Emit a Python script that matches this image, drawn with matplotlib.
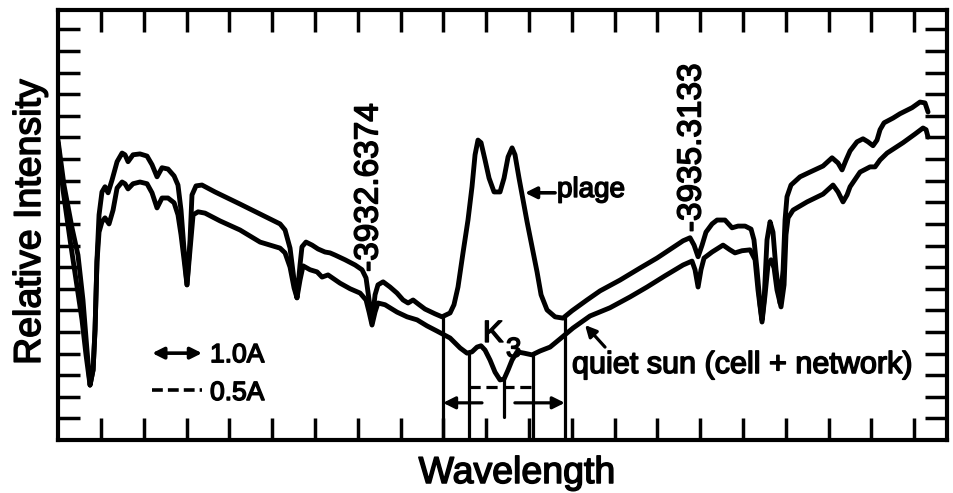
import numpy as np
import matplotlib.pyplot as plt
import matplotlib.patheffects as pe

plt.rcParams['font.family'] = ['Liberation Sans', 'DejaVu Sans']

# Ca II K line profiles, wavelength in Angstrom, intensity relative (0-1)
wl_plage = [3930.059, 3930.108, 3930.174, 3930.223, 3930.264, 3930.297, 3930.322,
            3930.347, 3930.363, 3930.379, 3930.396, 3930.420, 3930.445, 3930.470,
            3930.503, 3930.544, 3930.585, 3930.609, 3930.634, 3930.675, 3930.732,
            3930.790, 3930.831, 3930.872, 3930.913, 3930.962, 3931.012, 3931.044,
            3931.069, 3931.094, 3931.118, 3931.143, 3931.159, 3931.192, 3931.241,
            3931.348, 3931.553, 3931.718, 3931.882, 3931.923, 3931.964, 3931.997,
            3932.021, 3932.046, 3932.062, 3932.095, 3932.145, 3932.194, 3932.251,
            3932.292, 3932.333, 3932.416, 3932.498, 3932.555, 3932.588, 3932.613,
            3932.637, 3932.662, 3932.686, 3932.728, 3932.785, 3932.842, 3932.892,
            3932.933, 3932.974, 3933.015, 3933.072, 3933.154, 3933.212, 3933.278,
            3933.310, 3933.343, 3933.384, 3933.425, 3933.458, 3933.483, 3933.507,
            3933.532, 3933.565, 3933.598, 3933.639, 3933.688, 3933.721, 3933.754,
            3933.787, 3933.811, 3933.844, 3933.877, 3933.910, 3933.951, 3933.992,
            3934.025, 3934.074, 3934.140, 3934.205, 3934.279, 3934.402, 3934.509,
            3934.673, 3934.838, 3934.977, 3935.100, 3935.191, 3935.248, 3935.281,
            3935.314, 3935.347, 3935.379, 3935.429, 3935.470, 3935.535, 3935.593,
            3935.642, 3935.700, 3935.749, 3935.773, 3935.798, 3935.823, 3935.839,
            3935.856, 3935.880, 3935.905, 3935.929, 3935.954, 3935.987, 3936.012,
            3936.028, 3936.044, 3936.077, 3936.151, 3936.233, 3936.340, 3936.414,
            3936.463, 3936.496, 3936.529, 3936.562, 3936.619, 3936.668, 3936.709,
            3936.750, 3936.783, 3936.808, 3936.841, 3936.915, 3936.972, 3937.071,
            3937.136, 3937.177, 3937.202]
i_plage = [0.694, 0.590, 0.491, 0.428, 0.324, 0.208, 0.127,
           0.162, 0.255, 0.417, 0.521, 0.574, 0.586, 0.572,
           0.602, 0.644, 0.664, 0.660, 0.644, 0.660, 0.662,
           0.657, 0.637, 0.609, 0.630, 0.627, 0.611, 0.590,
           0.532, 0.440, 0.359, 0.463, 0.567, 0.588, 0.590,
           0.574, 0.546, 0.523, 0.500, 0.486, 0.444, 0.370,
           0.329, 0.405, 0.447, 0.458, 0.451, 0.442, 0.435,
           0.433, 0.428, 0.417, 0.405, 0.394, 0.375, 0.324,
           0.271, 0.336, 0.359, 0.366, 0.354, 0.340, 0.324,
           0.317, 0.324, 0.315, 0.303, 0.292, 0.285, 0.294,
           0.313, 0.354, 0.433, 0.509, 0.586, 0.660, 0.694,
           0.688, 0.648, 0.606, 0.574, 0.574, 0.606, 0.655,
           0.676, 0.660, 0.606, 0.556, 0.505, 0.447, 0.389,
           0.336, 0.301, 0.285, 0.282, 0.299, 0.324, 0.345,
           0.370, 0.398, 0.421, 0.444, 0.461, 0.468, 0.451,
           0.424, 0.451, 0.481, 0.500, 0.509, 0.509, 0.491,
           0.495, 0.495, 0.488, 0.463, 0.394, 0.313, 0.278,
           0.324, 0.463, 0.505, 0.481, 0.394, 0.317, 0.394,
           0.509, 0.563, 0.590, 0.609, 0.620, 0.634, 0.653,
           0.641, 0.625, 0.648, 0.669, 0.690, 0.697, 0.690,
           0.681, 0.694, 0.718, 0.734, 0.745, 0.755, 0.769,
           0.782, 0.780, 0.759]

wl_quiet = [3930.059, 3930.100, 3930.158, 3930.207, 3930.256, 3930.289, 3930.322,
            3930.347, 3930.363, 3930.379, 3930.396, 3930.420, 3930.445, 3930.478,
            3930.511, 3930.544, 3930.585, 3930.609, 3930.634, 3930.675, 3930.732,
            3930.790, 3930.831, 3930.872, 3930.913, 3930.962, 3931.012, 3931.044,
            3931.069, 3931.094, 3931.118, 3931.143, 3931.168, 3931.209, 3931.266,
            3931.389, 3931.553, 3931.718, 3931.882, 3931.923, 3931.964, 3931.997,
            3932.021, 3932.046, 3932.071, 3932.128, 3932.186, 3932.227, 3932.276,
            3932.374, 3932.457, 3932.539, 3932.588, 3932.613, 3932.637, 3932.662,
            3932.686, 3932.744, 3932.842, 3932.925, 3933.007, 3933.089, 3933.171,
            3933.278, 3933.360, 3933.417, 3933.458, 3933.499, 3933.532, 3933.565,
            3933.606, 3933.647, 3933.688, 3933.721, 3933.754, 3933.787, 3933.828,
            3933.885, 3933.951, 3934.017, 3934.099, 3934.181, 3934.287, 3934.427,
            3934.591, 3934.755, 3934.895, 3935.043, 3935.191, 3935.264, 3935.289,
            3935.314, 3935.338, 3935.363, 3935.429, 3935.519, 3935.576, 3935.617,
            3935.675, 3935.741, 3935.782, 3935.806, 3935.839, 3935.864, 3935.888,
            3935.913, 3935.938, 3935.962, 3935.995, 3936.020, 3936.036, 3936.053,
            3936.094, 3936.209, 3936.340, 3936.422, 3936.463, 3936.504, 3936.537,
            3936.562, 3936.644, 3936.726, 3936.767, 3936.808, 3936.866, 3936.997,
            3937.095, 3937.161, 3937.186, 3937.202]
i_quiet = [0.688, 0.579, 0.463, 0.370, 0.278, 0.197, 0.127,
           0.162, 0.255, 0.412, 0.481, 0.505, 0.514, 0.500,
           0.532, 0.583, 0.597, 0.593, 0.581, 0.593, 0.597,
           0.593, 0.572, 0.537, 0.560, 0.560, 0.549, 0.521,
           0.475, 0.417, 0.359, 0.440, 0.521, 0.528, 0.525,
           0.507, 0.486, 0.458, 0.444, 0.433, 0.400, 0.352,
           0.329, 0.370, 0.403, 0.394, 0.389, 0.377, 0.382,
           0.363, 0.350, 0.340, 0.324, 0.296, 0.266, 0.296,
           0.317, 0.313, 0.296, 0.285, 0.278, 0.264, 0.252,
           0.236, 0.213, 0.201, 0.204, 0.215, 0.218, 0.208,
           0.185, 0.157, 0.139, 0.141, 0.162, 0.185, 0.204,
           0.201, 0.197, 0.206, 0.215, 0.234, 0.259, 0.287,
           0.306, 0.331, 0.354, 0.380, 0.405, 0.414, 0.394,
           0.354, 0.394, 0.421, 0.435, 0.451, 0.440, 0.433,
           0.438, 0.440, 0.417, 0.347, 0.273, 0.336, 0.405,
           0.417, 0.398, 0.347, 0.308, 0.359, 0.475, 0.514,
           0.532, 0.551, 0.569, 0.590, 0.574, 0.551, 0.567,
           0.586, 0.620, 0.632, 0.632, 0.648, 0.664, 0.688,
           0.708, 0.722, 0.718, 0.701]

# K1 minima of each profile, and the K3 core
k1_plage = [3933.22, 3934.22]
k1_quiet = [3933.43, 3933.96]
k3_wl = 3933.72

line_ids = ['-3932.6374', '-3935.3133']

# slightly heavier lettering
bold = [pe.withStroke(linewidth=1.1, foreground='black')]

fig = plt.figure(figsize=(9.54, 4.93), dpi=100)
ax = fig.add_axes([0.0608, 0.1075, 0.9319, 0.8722])

ink = dict(color='black', solid_joinstyle='round', solid_capstyle='round')
ax.plot(wl_plage, i_plage, lw=3.5, **ink)
ax.plot(wl_quiet, i_quiet, lw=3.5, **ink)

# vertical rules from the K1 minima down to the axis
for w in k1_plage:
    ax.plot([w, w], [0, np.interp(w, wl_plage, i_plage)], lw=2.3, **ink)
for w in k1_quiet:
    ax.plot([w, w], [0, np.interp(w, wl_quiet, i_quiet)], lw=2.3, **ink)
ax.plot([k3_wl, k3_wl], [0.053, np.interp(k3_wl, wl_quiet, i_quiet)], lw=2.3, **ink)

# K1 separations: 1.0 A (plage, solid) and 0.5 A (quiet, dashed)
arr = dict(arrowstyle='-|>', color='black', lw=2.3, mutation_scale=18,
           shrinkA=0, shrinkB=0)
ax.annotate('', xy=(k1_plage[0], 0.086), xytext=(3933.54, 0.086), arrowprops=arr)
ax.annotate('', xy=(k1_plage[1], 0.086), xytext=(3933.81, 0.086), arrowprops=arr)
ax.plot(k1_quiet, [0.123, 0.123], lw=2.3, color='black', dashes=(3.5, 1.8))

# key
ax.annotate('', xy=(0.106, 0.202), xytext=(0.162, 0.202), xycoords='axes fraction',
            arrowprops=dict(arrowstyle='<|-|>', color='black', lw=2.6,
                            mutation_scale=17, shrinkA=0, shrinkB=0))
ax.plot([0.106, 0.162], [0.116, 0.116], transform=ax.transAxes, lw=2.6,
        color='black', dashes=(3.0, 1.4))
ax.text(0.171, 0.181, '1.0A', transform=ax.transAxes, fontsize=19,
        va='baseline', path_effects=bold)
ax.text(0.171, 0.093, '0.5A', transform=ax.transAxes, fontsize=19,
        va='baseline', path_effects=bold)

# line identifications
ax.text(3932.612, 0.389, line_ids[0], rotation=90, fontsize=24,
        ha='center', va='bottom', path_effects=bold)
ax.text(3935.264, 0.481, line_ids[1], rotation=90, fontsize=24,
        ha='center', va='bottom', path_effects=bold)

# curve labels
ax.annotate('', xy=(3933.893, 0.572), xytext=(3934.140, 0.572),
            arrowprops=dict(arrowstyle='-|>', color='black', lw=2.6,
                            mutation_scale=17, shrinkA=0, shrinkB=0))
ax.text(3934.156, 0.5625, 'plage', fontsize=20, va='baseline', path_effects=bold)
ax.annotate('', xy=(3934.386, 0.266), xytext=(3934.550, 0.215),
            arrowprops=dict(arrowstyle='-|>', color='black', lw=2.3,
                            mutation_scale=17, shrinkA=0, shrinkB=0))
ax.text(3934.279, 0.155, 'quiet sun (cell + network)', fontsize=22,
        va='baseline', path_effects=bold)
ax.text(3933.548, 0.227, 'K', fontsize=22, va='baseline', path_effects=bold)
ax.text(3933.737, 0.192, '3', fontsize=20, va='baseline', path_effects=bold)

ax.set_xlim(3930.059, 3937.358)
ax.set_ylim(0, 0.995)
ax.set_xticks(3930.412 + 0.3514 * np.arange(20))
ax.set_yticks(0.05 * np.arange(1, 20))
ax.tick_params(which='major', direction='in', top=True, right=True,
               length=16, width=2.5, labelbottom=False, labelleft=False)
for s in ax.spines.values():
    s.set_linewidth(3.0)

fig.text(30 / 954, 1 - 222 / 493, 'Relative Intensity', rotation=90,
         fontsize=27, ha='center', va='center', path_effects=bold)
fig.text(517 / 954, 1 - 473 / 493, 'Wavelength', fontsize=27,
         ha='center', va='center', path_effects=bold)

fig.savefig('out.png', dpi=100, facecolor='white')
